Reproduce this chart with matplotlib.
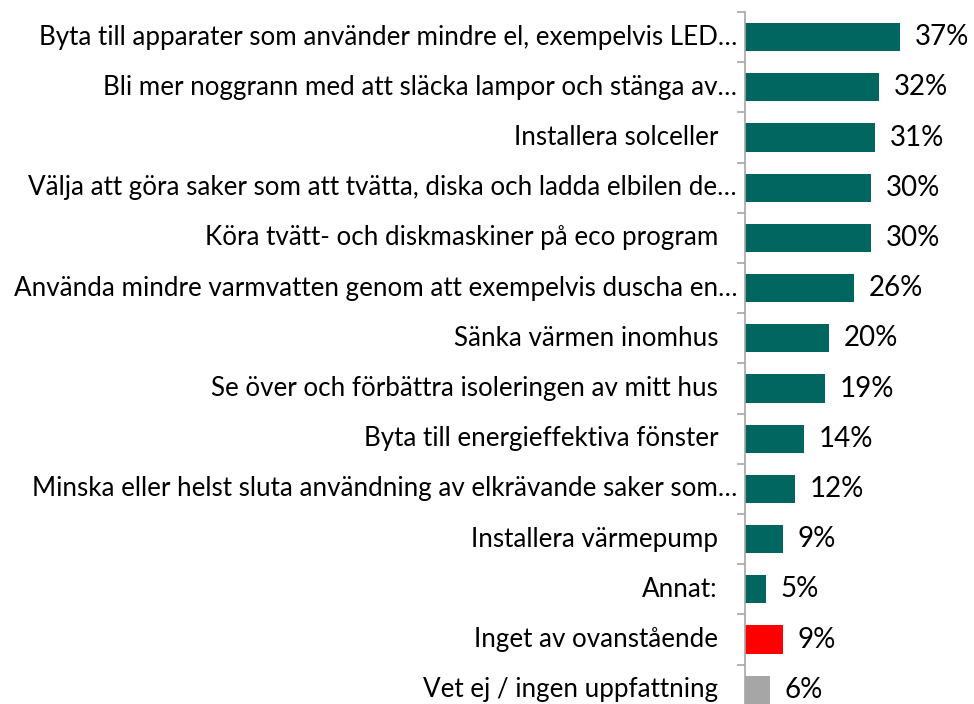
import matplotlib
matplotlib.use("Agg")
import matplotlib.pyplot as plt
import matplotlib.transforms as mtransforms

categories = [
    "Byta till apparater som använder mindre el, exempelvis LED…",
    "Bli mer noggrann med att släcka lampor och stänga av…",
    "Installera solceller ",
    "Välja att göra saker som att tvätta, diska och ladda elbilen de…",
    "Köra tvätt- och diskmaskiner på eco program ",
    "Använda mindre varmvatten genom att exempelvis duscha en…",
    "Sänka värmen inomhus",
    "Se över och förbättra isoleringen av mitt hus",
    "Byta till energieffektiva fönster",
    "Minska eller helst sluta användning av elkrävande saker som…",
    "Installera värmepump",
    "Annat:",
    "Inget av ovanstående",
    "Vet ej / ingen uppfattning",
]
values = [37, 32, 31, 30, 30, 26, 20, 19, 14, 12, 9, 5, 9, 6]
value_labels = ["37%", "32%", "31%", "30%", "30%", "26%", "20%", "19%", "14%", "12%", "9%", "5%", "9%", "6%"]
colors = ["#00665F"] * 12 + ["#FF0000", "#A6A6A6"]

plt.rcParams['font.family'] = ['Lato', 'DejaVu Sans']

W, H = 974, 704
fig = plt.figure(figsize=(W / 100, H / 100), dpi=100)
left_px, top_px, step = 745, 12, 50.2
n = len(categories)
bottom_px = top_px + n * step
ax = fig.add_axes([left_px / W, 1 - bottom_px / H, (W - left_px) / W, (bottom_px - top_px) / H])

ypos = list(range(n))
ax.barh(ypos, values, height=0.56, color=colors, edgecolor="none")
ax.set_ylim(n - 0.5, -0.5)
ax.set_xlim(0, (W - left_px) / 4.19)

for y, v, lab in zip(ypos, values, value_labels):
    ax.text(v + 3.5, y, lab, va="center", ha="left", fontsize=20, color="#000000")

base = mtransforms.blended_transform_factory(ax.transAxes, ax.transData)
for y, cat in zip(ypos, categories):
    gap = 8 if cat.endswith("…") else 27
    tr = base + mtransforms.ScaledTranslation(-gap / 100, 0, fig.dpi_scale_trans)
    ax.text(0, y, cat.rstrip(), transform=tr, ha="right", va="center",
            fontsize=18.7, color="#000000")

ax.set_yticks([i - 0.5 for i in range(n + 1)])
ax.set_yticklabels([])
ax.tick_params(axis="y", which="major", length=6, color="#A6A6A6", width=1.2)
ax.set_xticks([])
for s in ["top", "right", "bottom"]:
    ax.spines[s].set_visible(False)
ax.spines["left"].set_color("#A6A6A6")
ax.spines["left"].set_linewidth(1.2)

fig.savefig("out.png", dpi=100)
